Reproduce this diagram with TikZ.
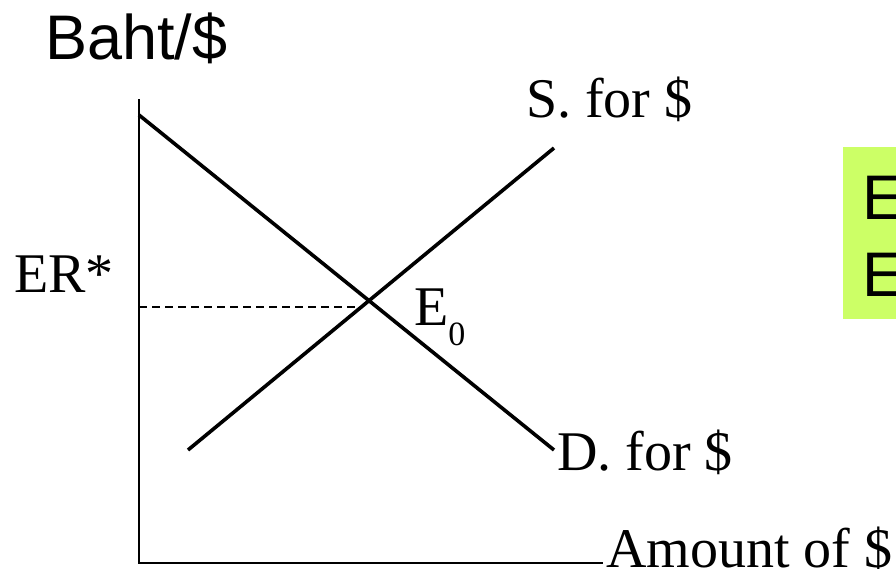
\documentclass[tikz,border=0pt]{standalone}
\usepackage{fontspec}
\setmainfont{Liberation Serif}
\newfontfamily\arialfont{Liberation Sans}
\definecolor{boxgreen}{HTML}{CCFF66}
\begin{document}
\begin{tikzpicture}[x=1pt,y=-1pt,
  curve/.style={line width=3.6pt},
  axisline/.style={line width=2pt, line join=miter},
  guide/.style={line width=1.4pt, dash pattern=on 8pt off 5pt},
  lbl/.style={anchor=base west, inner sep=0pt, font=\fontsize{56}{60}\selectfont},
  slbl/.style={anchor=base west, inner sep=0pt, font=\arialfont\fontsize{63}{68}\selectfont}]
\clip (0,0) rectangle (896,568);
\useasboundingbox (0,0) rectangle (896,568);
% coordinates
\coordinate (ytop) at (139,99);
\coordinate (O) at (139,563);
\coordinate (xend) at (603,563);
\coordinate (d1) at (139,115);
\coordinate (d2) at (554,450);
\coordinate (s1) at (188,450);
\coordinate (s2) at (554,148);
\coordinate (er) at (139,307);
\coordinate (erend) at (362,307);
% green box
\node (box) [fill=boxgreen, anchor=north west, minimum width=60pt, minimum height=172pt, inner sep=0pt] at (843,147) {};
\node[slbl] (b1) at (862,219) {E};
\node[slbl] (b2) at (862,296) {E};
% axes
\draw[axisline] (ytop) -- (O) -- (xend);
% curves
\draw[curve] (d1) -- (d2);
\draw[curve] (s1) -- (s2);
\draw[guide] (er) -- (erend);
% labels
\node[slbl] (yl) at (45,59) {Baht/\$};
\node[lbl] (erl) at (14,292) {ER*};
\node[lbl] (sl) at (526,117) {S. for \$};
\node[lbl] (dl) at (557,470) {D. for \$};
\node[lbl] (xl) at (606,567) {Amount of \$};
\node[lbl] (e0) at (414,325) {E\raisebox{-20pt}{\fontsize{34}{36}\selectfont 0}};
\end{tikzpicture}
\end{document}
